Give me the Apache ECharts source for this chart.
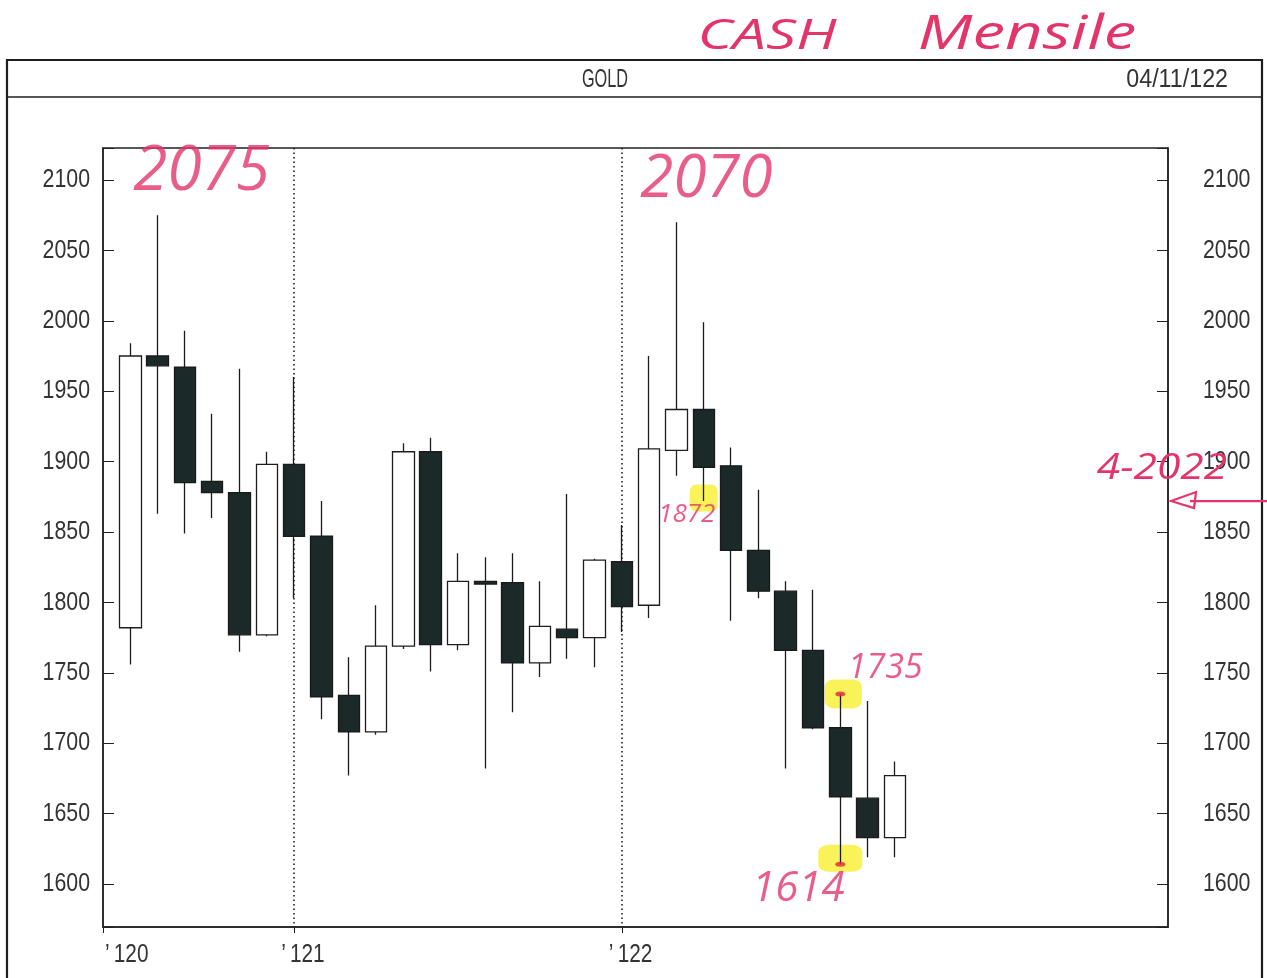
<!DOCTYPE html>
<html>
<head>
<meta charset="utf-8">
<script src="https://cdn.jsdelivr.net/npm/echarts@6/dist/echarts.min.js"></script>
<style>
  html, body { margin: 0; padding: 0; background: #fff; }
  #chart { width: 1267px; height: 978px; }
</style>
</head>
<body>
<div id="chart"></div>
<script>
// Monthly slots on the time axis (June 2020 – September 2023)
const months = [
  '2020-06','2020-07','2020-08','2020-09','2020-10','2020-11','2020-12',
  '2021-01','2021-02','2021-03','2021-04','2021-05','2021-06','2021-07','2021-08','2021-09','2021-10','2021-11','2021-12',
  '2022-01','2022-02','2022-03','2022-04','2022-05','2022-06','2022-07','2022-08','2022-09','2022-10','2022-11','2022-12',
  '2023-01','2023-02','2023-03','2023-04','2023-05','2023-06','2023-07','2023-08','2023-09'
];
// Year tick labels on the time axis
const yearMonths = ['2020-06', '2021-01', '2022-01'];
const yearLabels = ['\u2019\u2009120', '\u2019\u2009121', '\u2019\u2009122'];
// Years marked by a dotted divider
const dividerMonths = ['2021-01', '2022-01'];

// Gold monthly bars, July 2020 – November 2022
const firstBarMonth = '2020-07';
const opens  = [1782, 1975, 1967, 1886, 1878, 1777, 1898, 1847, 1734, 1708, 1769, 1907, 1770, 1815, 1814, 1757, 1781, 1775, 1829, 1798, 1908, 1937, 1897, 1837, 1808, 1766, 1711, 1661, 1633];
const closes = [1975, 1968, 1885, 1878, 1777, 1898, 1847, 1733, 1708, 1769, 1907, 1770, 1815, 1813, 1757, 1783, 1775, 1830, 1797, 1909, 1937, 1896, 1837, 1808, 1766, 1711, 1662, 1633, 1677];
const lows   = [1756, 1863, 1849, 1860, 1765, 1776, 1803, 1717, 1677, 1706, 1767, 1751, 1766, 1682, 1722, 1747, 1760, 1754, 1779, 1789, 1890, 1872, 1787, 1803, 1682, 1710, 1614, 1619, 1619];
const highs  = [1984, 2075, 1993, 1934, 1966, 1907, 1960, 1872, 1761, 1798, 1913, 1917, 1835, 1832, 1835, 1815, 1877, 1831, 1855, 1975, 2070, 1999, 1910, 1880, 1815, 1809, 1735, 1730, 1687];

// Price scale and its labelled ticks
const priceMin = 1569.5;
const priceMax = 2122.7;
const priceStep = 50;
const priceTicks = [1600, 1650, 1700, 1750, 1800, 1850, 1900, 1950, 2000, 2050, 2100];

// Handwritten notes: [month, price, text]
const notes = [
  ['2020-08', 2075, '2075'],
  ['2022-03', 2070, '2070'],
  ['2022-04', 1872, '1872'],
  ['2022-09', 1735, '1735'],
  ['2022-09', 1614, '1614']
];
// Highlighted prices: [month, price]
const highlights = [
  ['2022-04', 1872],
  ['2022-09', 1735],
  ['2022-09', 1614]
];
const arrowPrice = 1872;
const arrowText = '4-2022';
const headerTitle = 'GOLD';
const headerDate = '04/11/122';
const noteTitleA = 'CASH';
const noteTitleB = 'Mensile';

const plotter = "'Liberation Sans', Arial, sans-serif";
const hand = "'Open Sans', 'Noto Sans', sans-serif";
const ink = '#e4356b';
const textGrey = '#333';

// Candle tuples in [open, close, low, high] order, aligned with the month slots
const startIdx = months.indexOf(firstBarMonth);
const candles = months.map((m, i) => {
  const k = i - startIdx;
  if (k < 0 || k >= opens.length) return '-';
  return [opens[k], closes[k], lows[k], highs[k]];
});

const noteStyle = {
  '2075': { fontSize: 62, offset: [44, -43] },
  '2070': { fontSize: 60, offset: [30, -42] },
  '1872': { fontSize: 26, offset: [-17, 14] },
  '1735': { fontSize: 34, offset: [45, -26] },
  '1614': { fontSize: 42, offset: [-42, 25] }
};
const hlStyle = [
  { size: [28, 27], offset: [0, -3] },
  { size: [37, 29], offset: [3, 0] },
  { size: [44, 27], offset: [0, -6] }
];

const isYear = (i, v) => yearMonths.indexOf(v) >= 0;

const chart = echarts.init(document.getElementById('chart'), null, { renderer: 'canvas' });

const priceAxis = position => ({
  type: 'value', position: position, min: priceMin, max: priceMax,
  minInterval: priceStep, maxInterval: priceStep,
  axisLine: { show: true, lineStyle: { color: '#222', width: 1.5 } },
  axisTick: { show: true, inside: true, length: 11, lineStyle: { color: '#222' } },
  axisLabel: { show: false },
  splitLine: { show: false }
});

const option = {
  animation: false,
  backgroundColor: '#fff',
  grid: {
    left: 103, right: 99, top: 148, bottom: 51,
    show: true, borderColor: '#222', borderWidth: 1.5, backgroundColor: 'transparent'
  },
  xAxis: {
    type: 'category',
    data: months,
    boundaryGap: false,
    axisLine: { show: true, lineStyle: { color: '#222', width: 1.5 } },
    axisTick: { show: true, interval: isYear, length: 6, lineStyle: { color: '#222' } },
    axisLabel: { show: false },
    splitLine: {
      show: true,
      interval: (i, v) => dividerMonths.indexOf(v) >= 0,
      lineStyle: { color: '#222', type: [1.5, 3], width: 1.6 }
    }
  },
  yAxis: [priceAxis('left'), priceAxis('right')],
  series: [
    {
      name: 'highlights',
      type: 'scatter',
      z: 1,
      silent: true,
      data: highlights.map((h, i) => ({
        value: h,
        symbol: 'roundRect',
        symbolSize: hlStyle[i].size,
        symbolOffset: hlStyle[i].offset,
        itemStyle: { color: 'rgba(248, 238, 30, 0.92)' }
      }))
    },
    {
      name: 'GOLD',
      type: 'candlestick',
      z: 3,
      data: candles,
      barWidth: 22,
      itemStyle: {
        color: '#ffffff',
        color0: '#1b2928',
        borderColor: '#1e1e1e',
        borderColor0: '#1a1a1a',
        borderWidth: 1.3,
        borderWidth0: 1.3
      }
    },
    {
      name: 'marks',
      type: 'scatter',
      z: 4,
      silent: true,
      symbol: 'circle',
      symbolSize: [10, 5],
      itemStyle: { color: '#e0263f' },
      data: highlights.slice(1)
    },
    {
      name: 'notes',
      type: 'scatter',
      z: 5,
      silent: true,
      symbolSize: 0,
      data: notes.map(n => ({
        value: [n[0], n[1]],
        label: {
          show: true,
          position: 'inside',
          formatter: n[2],
          offset: noteStyle[n[2]].offset,
          fontSize: noteStyle[n[2]].fontSize,
          fontFamily: hand,
          fontStyle: 'italic',
          color: ink
        }
      }))
    }
  ]
};

chart.setOption(option);

// Narrow plotter-style labels: both price scales, year marks, header
const graphics = [];
priceTicks.forEach(p => {
  const yl = chart.convertToPixel({ yAxisIndex: 0 }, p);
  const yr = chart.convertToPixel({ yAxisIndex: 1 }, p);
  graphics.push({
    type: 'text', x: 90, y: yl, scaleX: 0.82, silent: true, z: 10,
    style: { text: String(p), fontFamily: plotter, fontSize: 26, fill: textGrey, align: 'right', verticalAlign: 'middle' }
  });
  graphics.push({
    type: 'text', x: 1203, y: yr, scaleX: 0.82, silent: true, z: 10,
    style: { text: String(p), fontFamily: plotter, fontSize: 26, fill: textGrey, align: 'left', verticalAlign: 'middle' }
  });
});
yearMonths.forEach((m, i) => {
  const x = chart.convertToPixel({ xAxisIndex: 0 }, m);
  graphics.push({
    type: 'text', x: x + (i === 0 ? 2 : -13), y: 955, scaleX: 0.8, silent: true, z: 10,
    style: { text: yearLabels[i], fontFamily: plotter, fontSize: 26, fill: textGrey, align: 'left', verticalAlign: 'middle' }
  });
});

// Frame, header and notes outside the plot area
const arrowY = chart.convertToPixel({ yAxisIndex: 1 }, arrowPrice);
graphics.push(
  { type: 'rect', shape: { x: 7, y: 60, width: 1255, height: 940 }, style: { fill: null, stroke: '#1e1e1e', lineWidth: 2.2 }, z: 10, silent: true },
  { type: 'line', shape: { x1: 7, y1: 97, x2: 1262, y2: 97 }, style: { stroke: '#1e1e1e', lineWidth: 1.6 }, z: 10, silent: true },
  { type: 'text', x: 605, y: 80, scaleX: 0.65, silent: true, z: 10, style: { text: headerTitle, fontFamily: plotter, fontSize: 25, fill: textGrey, align: 'center', verticalAlign: 'middle' } },
  { type: 'text', x: 1228, y: 80, scaleX: 0.93, silent: true, z: 10, style: { text: headerDate, fontFamily: plotter, fontSize: 25, fill: textGrey, align: 'right', verticalAlign: 'middle' } },
  { type: 'text', x: 767, y: 37, scaleX: 1.42, silent: true, z: 10, style: { text: noteTitleA, fontFamily: hand, fontStyle: 'italic', fontSize: 42, fill: ink, align: 'center', verticalAlign: 'middle' } },
  { type: 'text', x: 1027, y: 35, scaleX: 1.36, silent: true, z: 10, style: { text: noteTitleB, fontFamily: hand, fontStyle: 'italic', fontSize: 48, fill: ink, align: 'center', verticalAlign: 'middle' } },
  { type: 'text', x: 1162, y: arrowY - 32, scaleX: 1.18, silent: true, z: 11, style: { text: arrowText, fontFamily: hand, fontStyle: 'italic', fontSize: 36, fill: ink, align: 'center', verticalAlign: 'middle' } },
  { type: 'line', shape: { x1: 1190, y1: arrowY, x2: 1267, y2: arrowY }, style: { stroke: ink, lineWidth: 2.2 }, z: 10, silent: true },
  { type: 'polygon', shape: { points: [[1171, arrowY], [1196, arrowY - 9], [1194, arrowY + 7]] }, style: { fill: null, stroke: ink, lineWidth: 2.2 }, z: 10, silent: true }
);
chart.setOption({ graphic: graphics });
</script>
</body>
</html>
